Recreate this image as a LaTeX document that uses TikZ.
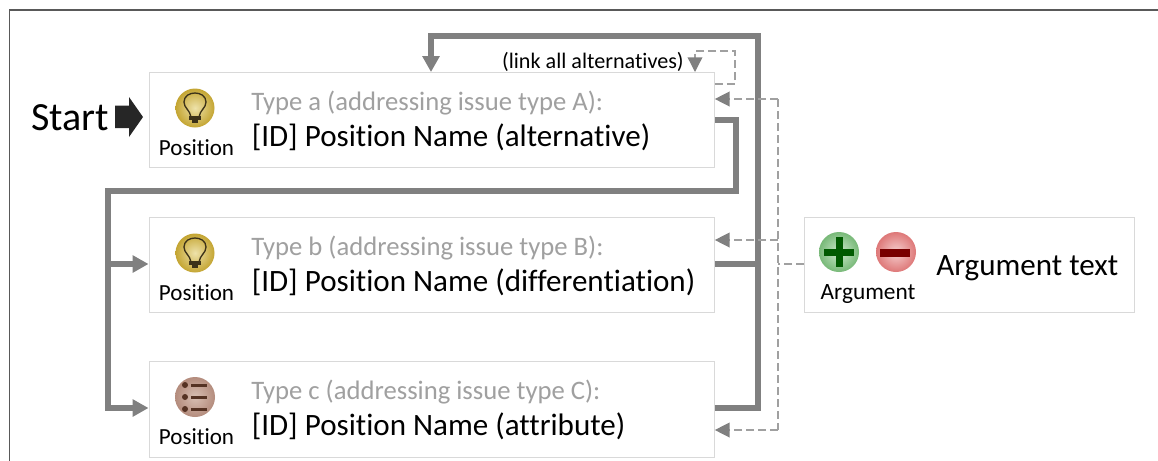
\documentclass[tikz,border=0pt]{standalone}
\usepackage{fontspec}
\setmainfont{Carlito}[Ligatures=NoCommon]
\usetikzlibrary{arrows.meta}
\definecolor{linegray}{RGB}{128,128,128}
\definecolor{dashgray}{RGB}{160,160,160}
\definecolor{boxgray}{RGB}{217,217,217}
\definecolor{typegray}{RGB}{160,160,160}
\definecolor{goldout}{RGB}{196,165,50}
\definecolor{goldin}{RGB}{238,226,170}
\definecolor{bulbline}{RGB}{60,50,25}
\definecolor{listout}{RGB}{180,140,125}
\definecolor{listin}{RGB}{215,190,178}
\definecolor{listmark}{RGB}{85,50,35}
\definecolor{plusout}{RGB}{120,185,120}
\definecolor{plusin}{RGB}{205,232,205}
\definecolor{plusbar}{RGB}{0,90,0}
\definecolor{minusout}{RGB}{222,120,120}
\definecolor{minusin}{RGB}{245,205,205}
\definecolor{minusbar}{RGB}{120,0,0}
\tikzset{
  x=0.75pt,y=-0.75pt,
  cardbox/.style={draw=boxgray,line width=1pt,fill=white,anchor=north west,inner sep=0pt},
  flow/.style={draw=linegray,line width=4pt},
  flowtip/.style={flow,-{Triangle[length=12pt,width=12.5pt]}},
  thinlink/.style={draw=dashgray,line width=1pt,dash pattern=on 6pt off 3pt},
  thintip/.style={thinlink,-{Triangle[length=11pt,width=11pt,color=linegray]}},
  typetext/.style={text=typegray,font=\fontsize{20}{20}\selectfont,anchor=base west,inner sep=0pt},
  nametext/.style={text=black,font=\fontsize{23.3}{23.3}\selectfont,anchor=base west,inner sep=0pt},
  iconlabel/.style={text=black,font=\fontsize{17.3}{17.3}\selectfont,anchor=base,inner sep=0pt},
}
\newcommand{\bulbicon}[2]{%
  \shade[inner color=goldin,outer color=goldout] (#1,#2) circle[radius=19.5*0.75pt];
  \draw[bulbline,line width=1pt,line join=round]
    (#1-4,#2+9) .. controls (#1-5,#2+2) and (#1-11,#2) .. (#1-11,#2-6)
    .. controls (#1-11,#2-18) and (#1+11,#2-18) .. (#1+11,#2-6)
    .. controls (#1+11,#2) and (#1+5,#2+2) .. (#1+4,#2+9) -- cycle;
  \fill[bulbline] (#1-6,#2+8) rectangle (#1+6,#2+12);
  \fill[bulbline] (#1-3,#2+12) rectangle (#1+3,#2+15);
}
\newcommand{\listicon}[2]{%
  \shade[inner color=listin,outer color=listout] (#1,#2) circle[radius=20*0.75pt];
  \foreach \dy in {-12,0,12}{
    \fill[listmark] (#1-10,#2+\dy) circle[radius=3*0.75pt];
    \fill[listmark] (#1-4,#2+\dy-1.5) rectangle (#1+12,#2+\dy+1.5);
  }
}
\begin{document}
\begin{tikzpicture}
\useasboundingbox (0,0) rectangle (1158,461);
\fill[white] (0,0) rectangle (1158,461);
\draw[draw=black!65,line width=1.4pt] (9.5,461) -- (9.5,10) -- (1158,10);
% cards
\node[cardbox,minimum width=0.75*565pt,minimum height=0.75*95pt] (a) at (148.5,72) {};
\node[cardbox,minimum width=0.75*565pt,minimum height=0.75*95pt] (b) at (148.5,217) {};
\node[cardbox,minimum width=0.75*565pt,minimum height=0.75*96pt] (c) at (148.5,361) {};
\node[cardbox,minimum width=0.75*330pt,minimum height=0.75*95pt] (arg) at (804,217) {};
% routing points
\coordinate (aout) at (a.east |- 0,120);
\coordinate (a1) at (736,120);
\coordinate (a2) at (736,191);
\coordinate (lft) at (108,191);
\coordinate (bin) at (b.west |- 0,264);
\coordinate (lftb) at (108,264);
\coordinate (cin) at (c.west |- 0,408);
\coordinate (lftc) at (108,408);
\coordinate (bout) at (b.east |- 0,264);
\coordinate (busb) at (758,264);
\coordinate (cout) at (c.east |- 0,408);
\coordinate (busc) at (758,408);
\coordinate (bustop) at (758,36);
\coordinate (toptl) at (431,36);
\coordinate (atop) at (431,72);
% thick flows
\draw[flowtip,line join=miter] (aout) -- (a1) -- (a2) -- (lft) -- (lftc) -- (cin);
\draw[flowtip] (lftb) -- (bin);
\draw[flow] (bout) -- (busb);
\draw[flowtip,line join=miter] (cout) -- (busc) -- (bustop) -- (toptl) -- (atop);
% dashed links
\coordinate (dtop) at (778,99);
\coordinate (dmid) at (778,264);
\coordinate (dbot) at (778,430);
\coordinate (dbtip) at (778,240);
\draw[thinlink] (arg.west |- 0,264) -- (dmid);
\draw[thintip] (dbot) -- (c.east |- 0,430);
\draw[thintip] (dbtip) -- (b.east |- 0,240);
\draw[thintip] (dtop) -- (a.east |- 0,99);
\draw[thinlink] (dtop) -- (dbot);
% self link
\coordinate (s1) at (a.east |- 0,84);
\coordinate (s2) at (735,84);
\coordinate (s3) at (735,51);
\coordinate (s4) at (695,51);
\coordinate (s5) at (695,72);
\draw[thintip] (s1) -- (s2) -- (s3) -- (s4) -- (s5);
% texts
\node[anchor=base west,inner sep=0pt,font=\fontsize{30}{30}\selectfont] (start) at (31,130) {Start};
\fill[black!85] (115,105.5) -- (129,105.5) -- (129,97) -- (143,117) -- (129,137) -- (129,128) -- (115,128) -- cycle;
\node[anchor=base east,inner sep=0pt,font=\fontsize{16.6}{16.6}\selectfont] (link) at (684,68) {(link all alternatives)};
\bulbicon{195}{108}
\bulbicon{195}{253}
\listicon{195}{397}
\node[iconlabel] (pa) at (196.5,155) {Position};
\node[iconlabel] (pb) at (196.5,300) {Position};
\node[iconlabel] (pc) at (196.5,444) {Position};
\node[typetext] (ta) at (251,110) {Type a (addressing issue type A):};
\node[nametext] (na) at (251.5,146) {[ID] Position Name (alternative)};
\node[typetext] (tb) at (251,255) {Type b (addressing issue type B):};
\node[nametext] (nb) at (251.5,291) {[ID] Position Name (differentiation)};
\node[typetext] (tc) at (251,399) {Type c (addressing issue type C):};
\node[nametext] (nc) at (251.5,435) {[ID] Position Name (attribute)};
% argument
\shade[inner color=plusin,outer color=plusout] (839,252) circle[radius=20*0.75pt];
\fill[plusbar] (835.5,237) rectangle (842.5,267);
\fill[plusbar] (824,248.5) rectangle (854,255.5);
\shade[inner color=minusin,outer color=minusout] (896,252) circle[radius=20*0.75pt];
\fill[minusbar] (880,249) rectangle (910,256.5);
\node[iconlabel,font=\fontsize{17.5}{17.5}\selectfont] (al) at (868,299) {Argument};
\node[nametext] (at) at (936,275) {Argument text};
\end{tikzpicture}
\end{document}
